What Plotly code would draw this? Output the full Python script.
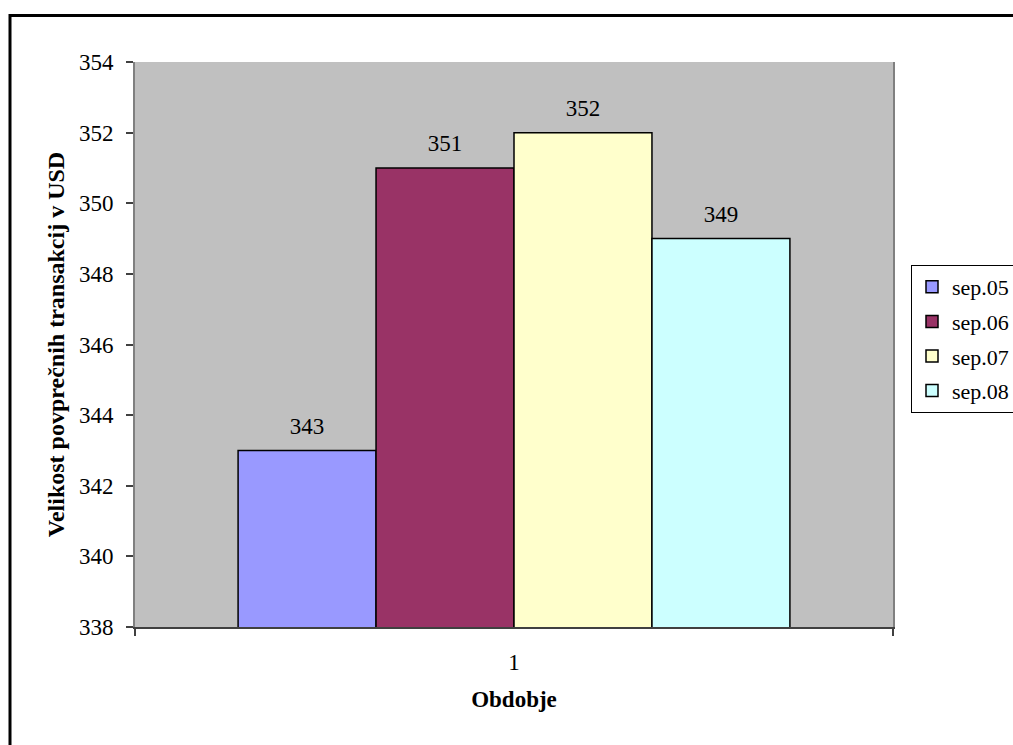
import plotly.graph_objects as go

# Data
periods = ["1"]
series_names = ["sep.05", "sep.06", "sep.07", "sep.08"]
series_values = [343, 351, 352, 349]
series_colors = ["#9999FF", "#993366", "#FFFFCC", "#CCFFFF"]
y_ticks = [338, 340, 342, 344, 346, 348, 350, 352, 354]

W, H = 1013, 745
L, R, T, B = 135, 120, 62, 118
plot_w = W - L - R
plot_h = H - T - B


def px_x(px):
    return (px - L) / plot_w


def px_y(py):
    return (H - B - py) / plot_h


FONT = "Times New Roman, Liberation Serif, DejaVu Serif, serif"
BARGAP = 0.272

fig = go.Figure()

for name, val, col in zip(series_names, series_values, series_colors):
    fig.add_trace(go.Bar(
        x=[1], y=[val], name=name, legendgroup=name,
        marker=dict(color=col, line=dict(color="black", width=1.5)),
        hoverinfo="skip",
    ))

# value labels, grouped the same way as the bars
for name, val in zip(series_names, series_values):
    fig.add_trace(go.Scatter(
        x=[1], y=[val], mode="markers+text", text=[str(val)],
        textposition="top center",
        textfont=dict(family=FONT, size=23, color="black"),
        marker=dict(size=16, opacity=0),
        showlegend=False, cliponaxis=False, hoverinfo="skip",
    ))

fig.update_layout(
    width=W, height=H,
    margin=dict(l=L, r=R, t=T, b=B, autoexpand=False),
    paper_bgcolor="white",
    plot_bgcolor="#C0C0C0",
    barmode="group",
    bargap=BARGAP,
    scattermode="group",
    scattergap=BARGAP,
    font=dict(family=FONT, size=23, color="black"),
    showlegend=True,
    legend=dict(
        x=px_x(911), y=px_y(265), xanchor="left", yanchor="top",
        bgcolor="white", bordercolor="black", borderwidth=1,
        font=dict(family=FONT, size=22, color="black"),
        itemwidth=30, tracegroupgap=3,
    ),
    xaxis=dict(
        range=[0.5, 1.5], tickvals=[1], ticktext=periods,
        ticks="", ticklabelstandoff=13,
        minor=dict(tick0=0.5, dtick=1, ticks="outside", ticklen=7,
                   tickcolor="#404040", tickwidth=2),
        showline=True, linecolor="#404040", linewidth=2, mirror=False,
        showgrid=False, zeroline=False,
        title=dict(text="<b>Obdobje</b>", font=dict(family=FONT, size=23),
                   standoff=17),
    ),
    yaxis=dict(
        range=[338, 354], tickvals=y_ticks,
        ticks="outside", ticklen=7, tickcolor="#404040", tickwidth=1.5,
        ticklabelstandoff=8,
        showline=True, linecolor="#808080", linewidth=2, mirror=True,
        showgrid=False, zeroline=False,
        title=dict(text="<b>Velikost povprečnih transakcij v USD</b>",
                   font=dict(family=FONT, size=24), standoff=8),
    ),
    shapes=[
        dict(type="rect", xref="paper", yref="paper",
             x0=px_x(10), x1=px_x(1040), y0=px_y(775), y1=px_y(15.5),
             line=dict(color="black", width=3), fillcolor="rgba(0,0,0,0)",
             layer="above"),
    ],
)

fig.write_html("out.html")
